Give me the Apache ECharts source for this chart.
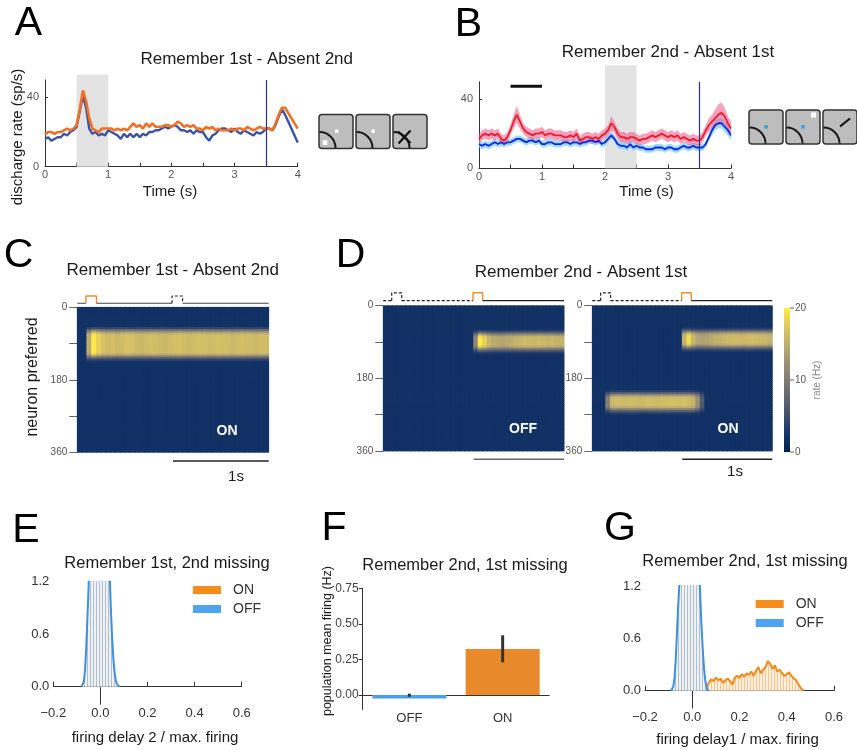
<!DOCTYPE html>
<html>
<head>
<meta charset="utf-8">
<script src="https://cdn.jsdelivr.net/npm/echarts@6/dist/echarts.min.js"></script>
<style>
  html, body { margin: 0; padding: 0; background: #ffffff; }
  #chart { width: 857px; height: 750px; }
</style>
</head>
<body>
<div id="chart"></div>
<script>
// ---------------- Panel A: example neuron, Remember 1st - Absent 2nd (sp/s, 50 ms steps from 0 s) ----------------
const psthStep = 0.05;
const orangeA = [
  18.5,20,20,19,20,20,21,22,21,22,
  24,33,44,38,28,22,21,20,22,22,
  22,22,21,22,21,22,21,23,25,23,
  24,22,25,23,25,23,23,23,24,24,
  23,24,26,25,23,24,23,24,22,22,
  21,23,22,23,21,22,21,21,21,22,
  21,22,22,21,23,22,21,22,23,22,
  22,22,21,25,30,34,34,31,28,25,
  22];
const blueA = [
  16,17,15,16,17,17,19,18,20,21,
  23,32,41,34,22,19,20,18,19,18,
  21,20,19,18,16,19,17,19,17,19,
  17,19,18,20,20,21,21,22,23,22,
  23,24,23,21,21,20,21,19,21,20,
  20,17,15,18,19,21,22,22,21,20,
  22,20,19,21,20,19,18,20,19,20,
  22,22,21,24,29,33,30,26,22,18,
  14];

// ---------------- Panel B: population mean +/- sem, Remember 2nd - Absent 1st ----------------
const redB = [
  17,19,20,19,20,19,20,17,16,18,
  22,27,31,27,23,21,20,19,20,20,
  21,19,20,20,19,19,19,18,18,19,
  18,20,16,17,18,18,17,18,17,19,
  20,22,26,24,20,18,18,17,18,18,
  17,16,17,17,18,19,18,19,20,19,
  18,19,18,19,17,18,17,16,17,16,
  16,18,22,25,27,29,31,32,30,26,
  23];
const redSemB = [
  3,3,3,3,3,3,3,3,3,3,
  3,4,5,4,3,3,3,3,3,3,
  3,3,3,3,3,3,3,3,3,3,
  3,3,3,3,3,3,3,3,3,3,
  3,3,4,3,3,3,3,3,3,3,
  3,3,3,3,3,3,3,3,3,3,
  3,3,3,3,3,3,3,3,3,3,
  3,3,3,4,4,5,6,6,5,4,
  4];
const blueB = [
  14,13,14,13,14,15,14,15,14,15,
  15,16,17,17,16,15,16,16,15,16,
  14,14,15,15,14,14,14,15,15,14,
  15,15,14,15,15,16,16,15,16,14,
  15,17,19,17,14,13,13,12,14,12,
  13,12,12,11,11,11,12,12,12,11,
  12,12,11,11,12,13,12,12,13,12,
  12,12,14,18,22,25,26,26,24,22,
  19];
const blueSemB = [
  2,2,2,2,2,2,2,2,2,2,
  2,2,2,2,2,2,2,2,2,2,
  2,2,2,2,2,2,2,2,2,2,
  2,2,2,2,2,2,2,2,2,2,
  2,2,2,2,2,2,2,2,2,2,
  2,2,2,2,2,2,2,2,2,2,
  2,2,2,2,2,2,2,2,2,2,
  2,2,2,2,3,3,3,3,3,3,
  3];

const stimWindowA = [0.5, 1.0];
const stimWindowB = [2.0, 2.5];
const goCueTime = 3.5;
const cueBarB = [0.5, 1.0];
const cueBarLevelB = 47.4;

// ---------------- Panels C, D: network rate maps (Hz), 50 ms x 5 deg bins ----------------
const TIME_BINS = 40;          // 0 - 2 s
const NEURON_BINS = 72;        // 0 - 360 deg
const baseRate = 2;
const bumpRate = 17;
const bumpProfile = [0.1, 0.35, 0.7, 0.95, 1, 1, 1, 1, 0.9, 0.6, 0.3, 0.1];
const bumpProfileC = [0.15, 0.45, 0.75, 0.95, 1, 1, 1, 1, 1, 1, 1, 1, 1, 0.9, 0.6, 0.3, 0.1];
const bumpStartC = 10, bumpStartDL = 12, bumpStartDRup = 11, bumpStartDRlow = 42;
const bumpTimeC = [
  0,0,0.75,1.05,0.95,0.88,0.84,0.86,0.83,0.85,
  0.88,0.86,0.83,0.82,0.84,0.86,0.85,0.83,0.82,0.84,
  0.86,0.87,0.85,0.83,0.85,0.87,0.86,0.84,0.85,0.87,
  0.86,0.85,0.83,0.85,0.86,0.85,0.84,0.83,0.85,0.84];
const bumpTimeDL = [
  0,0,0,0,0,0,0,0,0,0,
  0,0,0,0,0,0,0,0,0,0,
  0.55,1.05,0.95,0.82,0.76,0.74,0.73,0.75,0.77,0.8,
  0.82,0.84,0.83,0.82,0.84,0.83,0.81,0.82,0.8,0.79];
const bumpTimeDRup = [
  0,0,0,0,0,0,0,0,0,0,
  0,0,0,0,0,0,0,0,0,0,
  0.8,1.0,0.82,0.72,0.7,0.72,0.75,0.78,0.8,0.82,
  0.84,0.85,0.84,0.83,0.85,0.86,0.84,0.83,0.82,0.8];
const bumpTimeDRlow = [
  0,0,0,0.5,0.82,0.85,0.84,0.83,0.85,0.84,
  0.83,0.84,0.86,0.85,0.84,0.85,0.86,0.87,0.86,0.85,
  0.86,0.85,0.8,0.6,0.25,0,0,0,0,0,
  0,0,0,0,0,0,0,0,0,0];
// stimulus schedule (s): [onset, offset]
const cuePulseC = [0.09, 0.20];
const absentPulseC = [0.99, 1.10];
const absentPulseD = [0.093, 0.204];
const cuePulseD = [0.993, 1.10];
const scaleBarSec = [1.0, 2.0];
const rateTicks = [0, 10, 20];

// ---------------- Panel E / G: distributions of normalised delay firing ----------------
const offE = [0,0.01,0.06,0.2,0.45,0.8,1.15,1.6,2.2,2.8,3.3,3.7,4.0,4.2,4.3,4.4,4.4,4.3,4.2,4.0,3.6,3.0,2.3,1.7,1.25,0.85,0.55,0.32,0.17,0.08,0.03,0.01,0];
const offEStart = -0.08, offEStep = 0.005;
const offG = [0,0.01,0.05,0.15,0.35,0.65,0.95,1.2,1.6,2.2,2.8,3.3,3.7,4.0,4.2,4.3,4.3,4.2,4.0,3.7,3.3,2.9,2.4,1.8,1.35,1.0,0.7,0.45,0.25,0.12,0.04,0.01,0];
const offGStart = -0.09, offGStep = 0.005;
const onG = [0.04,0.09,0.13,0.11,0.15,0.12,0.14,0.09,0.12,0.14,0.11,0.07,0.15,0.17,0.15,0.19,0.16,0.2,0.18,0.22,0.17,0.23,0.27,0.2,0.24,0.27,0.34,0.31,0.25,0.29,0.22,0.24,0.2,0.17,0.19,0.21,0.17,0.14,0.12,0.07,0.03,0];
const onGStart = 0.06, onGStep = 0.01;

// ---------------- Panel F: population mean firing (Hz) ----------------
const fCategories = ['OFF', 'ON'];
const fMeans = [-0.025, 0.323];
const fErrLow = [-0.012, 0.23];
const fErrHigh = [0.01, 0.42];

// ---------------- helpers ----------------
const SANS = "'Liberation Sans', Arial, sans-serif";
const ORANGE_A = '#F36F21', BLUE_A = '#3A52A6';
const BLUE_E = '#3E90E0', ORANGE_G = '#F38B14';
const CIVIDIS = ['#00204D', '#1A386F', '#4B556C', '#6E6F72', '#8F8877', '#B4A673', '#DAC563', '#FFEA46'];

const toXY = (arr, start, step) => arr.map((v, i) => [+(start + i * step).toFixed(4), v]);

function stripes(a, b, wa, wb) {
  const c = document.createElement('canvas');
  c.width = wa + wb; c.height = 4;
  const g = c.getContext('2d');
  g.fillStyle = b; g.fillRect(0, 0, wa + wb, 4);
  g.fillStyle = a; g.fillRect(0, 0, wa, 4);
  return { image: c, repeat: 'repeat' };
}

function heatCells(bands) {
  const cells = [];
  for (let t = 0; t < TIME_BINS; t++) {
    for (let n = 0; n < NEURON_BINS; n++) {
      let v = baseRate;
      bands.forEach(b => {
        const k = n - b.start;
        if (k >= 0 && k < b.profile.length) v += bumpRate * b.time[t] * b.profile[k];
      });
      cells.push([t, n, Math.min(v, 20)]);
    }
  }
  return cells;
}
const timeBins = Array.from({ length: TIME_BINS }, (_, i) => String(i));
const neuronBins = Array.from({ length: NEURON_BINS }, (_, i) => String(i));

// ---------------- layout ----------------
const grids = [
  { left: 45, top: 80, width: 252.7, height: 86.7 },     // 0 A
  { left: 479, top: 81.7, width: 252, height: 86.6 },    // 1 B
  { left: 77.3, top: 307.3, width: 191.4, height: 145 }, // 2 C
  { left: 383.3, top: 305.7, width: 180.7, height: 145.3 }, // 3 D left
  { left: 592.3, top: 305.7, width: 180, height: 145.3 },   // 4 D right
  { left: 53.3, top: 581.7, width: 188.4, height: 122.5 },  // 5 E
  { left: 362.7, top: 588.3, width: 186.6, height: 121 },   // 6 F
  { left: 645, top: 586, width: 189, height: 122.2 }        // 7 G
];

const axisLineStyle = { lineStyle: { color: '#333', width: 1 } };

function psthX(grid) {
  return {
    type: 'value', gridIndex: grid, min: 0, max: 4,
    axisLine: axisLineStyle,
    axisTick: { inside: true, length: 4, lineStyle: { color: '#333' }, customValues: [0, 0.5, 1, 1.5, 2, 2.5, 3, 3.5, 4] },
    axisLabel: { customValues: [0, 1, 2, 3, 4], fontSize: 11, color: '#555', fontFamily: SANS, margin: 3 },
    splitLine: { show: false }
  };
}
function psthY(grid) {
  return {
    type: 'value', gridIndex: grid, min: 0, max: 50,
    axisLine: { show: true, lineStyle: { color: '#333', width: 1 } },
    axisTick: { inside: true, length: 3, lineStyle: { color: '#333' }, customValues: [0, 40] },
    axisLabel: { customValues: [0, 40], fontSize: 11, color: '#555', fontFamily: SANS, margin: 6 },
    splitLine: { show: false }
  };
}
function hmCatX(grid) { return { type: 'category', gridIndex: grid, data: timeBins, show: false }; }
function hmCatY(grid) { return { type: 'category', gridIndex: grid, data: neuronBins, inverse: true, show: false }; }
function hmValX(grid) { return { type: 'value', gridIndex: grid, min: 0, max: 2, show: false }; }
function hmValY(grid) {
  return {
    type: 'value', gridIndex: grid, min: 0, max: 360, inverse: true, position: 'left',
    axisLine: { show: false },
    axisTick: { show: true, length: 8, lineStyle: { color: '#666' }, customValues: [0, 90, 180, 270, 360] },
    axisLabel: { customValues: [0, 180, 360], fontSize: 10, color: '#555', fontFamily: SANS, margin: 10 },
    splitLine: { show: false }
  };
}
const fmtSigned = v => (v < 0 ? '\u2212' + Math.abs(v).toFixed(1) : v.toFixed(1));
function distX(grid) {
  return {
    type: 'value', gridIndex: grid, min: -0.2, max: 0.6, interval: 0.2,
    axisLine: axisLineStyle,
    axisTick: { inside: true, length: 5, lineStyle: { color: '#333' } },
    axisLabel: { formatter: fmtSigned, fontSize: 13, color: '#333', fontFamily: SANS, margin: 3 },
    splitLine: { show: false }
  };
}
function distY(grid) {
  return {
    type: 'value', gridIndex: grid, min: -0.2, max: 1.2,
    axisLine: { show: true, lineStyle: { color: '#333', width: 1 } },
    axisTick: { show: true, length: 4, lineStyle: { color: '#333' }, customValues: [0, 0.6, 1.2] },
    axisLabel: { customValues: [0, 0.6, 1.2], formatter: v => v.toFixed(1), fontSize: 13, color: '#333', fontFamily: SANS, margin: 4 },
    splitLine: { show: false }
  };
}

const xAxes = [
  psthX(0), psthX(1),
  hmCatX(2), hmValX(2),
  hmCatX(3), hmValX(3),
  hmCatX(4), hmValX(4),
  distX(5),
  {
    type: 'category', gridIndex: 6, data: fCategories,
    axisLine: axisLineStyle,
    axisTick: { alignWithLabel: true, inside: true, length: 5, lineStyle: { color: '#333' } },
    axisLabel: { fontSize: 13, color: '#333', fontFamily: SANS, margin: 3 }
  },
  distX(7)
];
const yAxes = [
  psthY(0), psthY(1),
  hmCatY(2), hmValY(2),
  hmCatY(3), hmValY(3),
  hmCatY(4), hmValY(4),
  distY(5),
  {
    type: 'value', gridIndex: 6, min: -0.1, max: 0.75,
    axisLine: { show: true, lineStyle: { color: '#333', width: 1 } },
    axisTick: { show: true, length: 4, lineStyle: { color: '#333' }, customValues: [0, 0.25, 0.5, 0.75] },
    axisLabel: { customValues: [0, 0.25, 0.5, 0.75], formatter: v => v.toFixed(2), fontSize: 12, color: '#444', fontFamily: SANS, margin: 4 },
    splitLine: { show: false }
  },
  distY(7)
];

// ---------------- series ----------------
const series = [];
const plain = { symbol: 'none', silent: true, animation: false };

// shaded stimulus windows (may rise above the plotting frame) + go-cue line
function windowSeries(ax, win, top) {
  series.push({
    type: 'custom', xAxisIndex: ax, yAxisIndex: ax, clip: false, silent: true, animation: false, z: 1,
    data: [[win[0], win[1], top]],
    renderItem: (params, api) => {
      const a = api.coord([api.value(0), 0]);
      const b = api.coord([api.value(1), api.value(2)]);
      return { type: 'rect', shape: { x: a[0], y: b[1], width: b[0] - a[0], height: a[1] - b[1] }, style: { fill: '#e3e3e3' } };
    }
  });
  series.push(Object.assign({
    type: 'line', xAxisIndex: ax, yAxisIndex: ax, data: [], z: 2,
    markLine: { silent: true, symbol: 'none', label: { show: false }, lineStyle: { color: '#2E2F8F', width: 1.2, type: 'solid' }, data: [{ xAxis: goCueTime }] }
  }, plain));
}
windowSeries(0, stimWindowA, 53);
windowSeries(1, stimWindowB, 59.5);

// Panel A traces
series.push(Object.assign({ type: 'line', xAxisIndex: 0, yAxisIndex: 0, z: 3, data: toXY(blueA, 0, psthStep), lineStyle: { color: BLUE_A, width: 2.4 } }, plain));
series.push(Object.assign({ type: 'line', xAxisIndex: 0, yAxisIndex: 0, z: 4, data: toXY(orangeA, 0, psthStep), lineStyle: { color: ORANGE_A, width: 2.6 } }, plain));

// Panel B sem bands: polygon between mean - sem and mean + sem
function band(mean, sem, fill) {
  series.push({
    type: 'custom', xAxisIndex: 1, yAxisIndex: 1, silent: true, animation: false, z: 2,
    data: [[0, mean[0]]],
    renderItem: (params, api) => {
      const up = mean.map((m, i) => api.coord([i * psthStep, m + sem[i]]));
      const lo = mean.map((m, i) => api.coord([i * psthStep, m - sem[i]])).reverse();
      return { type: 'polygon', shape: { points: up.concat(lo) }, style: { fill: fill } };
    }
  });
}
band(blueB, blueSemB, 'rgba(110,210,250,0.7)');
band(redB, redSemB, 'rgba(240,85,135,0.55)');
series.push(Object.assign({ type: 'line', xAxisIndex: 1, yAxisIndex: 1, z: 3, data: toXY(blueB, 0, psthStep), lineStyle: { color: '#1520E6', width: 1.8 } }, plain));
series.push(Object.assign({ type: 'line', xAxisIndex: 1, yAxisIndex: 1, z: 4, data: toXY(redB, 0, psthStep), lineStyle: { color: '#EE1D2E', width: 1.8 } }, plain));
series.push(Object.assign({ type: 'line', xAxisIndex: 1, yAxisIndex: 1, z: 4, clip: false, data: cueBarB.map(t => [t, cueBarLevelB]), lineStyle: { color: '#111', width: 3 } }, plain));

// Panels C, D rate maps: one rectangle per (time bin, neuron bin), slightly overlapped to avoid seams
const heatIdx = [];
function heat(ax, bands) {
  heatIdx.push(series.length);
  series.push({
    type: 'custom', xAxisIndex: ax, yAxisIndex: ax, data: heatCells(bands),
    encode: { x: 0, y: 1 }, silent: true, animation: false, z: 2,
    renderItem: (params, api) => {
      const p = api.coord([api.value(0), api.value(1)]);
      const s = api.size([1, 1]);
      return {
        type: 'rect',
        shape: { x: p[0] - s[0] / 2 - 0.4, y: p[1] - s[1] / 2 - 0.4, width: s[0] + 0.8, height: s[1] + 0.8 },
        style: { fill: api.visual('color') }
      };
    }
  });
}
heat(2, [{ start: bumpStartC, profile: bumpProfileC, time: bumpTimeC }]);
heat(4, [{ start: bumpStartDL, profile: bumpProfile, time: bumpTimeDL }]);
heat(6, [{ start: bumpStartDRup, profile: bumpProfile, time: bumpTimeDRup },
         { start: bumpStartDRlow, profile: bumpProfile, time: bumpTimeDRlow }]);

// stimulus traces above maps and 1 s scale bars below
function seg(ax, pts, color, width, dashed) {
  series.push(Object.assign({
    type: 'line', xAxisIndex: ax, yAxisIndex: ax, clip: false, z: 5, data: pts,
    lineStyle: { color: color, width: width, type: dashed ? [3, 2] : 'solid' }
  }, plain));
}
const pulse = (p, y0, y1) => [[p[0], y0], [p[0], y1], [p[1], y1], [p[1], y0]];
// C: cue then (absent) probe
{
  const ax = 3, y0 = -10, y1 = -28;
  seg(ax, [[0, y0], [cuePulseC[0], y0]], '#444', 1.2);
  seg(ax, pulse(cuePulseC, y0, y1), '#F08C2A', 1.4);
  seg(ax, [[cuePulseC[1], y0], [absentPulseC[0], y0]], '#444', 1.2);
  seg(ax, pulse(absentPulseC, y0, y1), '#222', 1.2, true);
  seg(ax, [[absentPulseC[1], y0], [2, y0]], '#444', 1.2);
  seg(ax, [[scaleBarSec[0], 381.6], [scaleBarSec[1], 381.6]], '#222', 1.5);
}
// D: absent first item, then cue
[5, 7].forEach((ax, k) => {
  const y0 = -12.5, y1 = -32;
  seg(ax, [[0, y0], [absentPulseD[0], y0]], '#222', 1.2, true);
  seg(ax, pulse(absentPulseD, y0, y1), '#222', 1.2, true);
  seg(ax, [[absentPulseD[1], y0], [cuePulseD[0], y0]], '#222', 1.2, true);
  seg(ax, pulse(cuePulseD, y0, y1), '#F08C2A', 1.4);
  seg(ax, [[cuePulseD[1], y0], [2, y0]], '#222', 1.2);
  seg(ax, [[scaleBarSec[0], 380.6], [scaleBarSec[1], 380.6]], k === 0 ? '#6a6a6a' : '#222', 1.5);
});

// Panel E, G distributions
const greyHatch = stripes('#b3bfca', '#eef1f4', 1, 2);
const orangeHatch = stripes('#f6c690', '#fdeedd', 1, 2);
function dist(ax, data, color, hatch) {
  series.push(Object.assign({
    type: 'line', xAxisIndex: ax, yAxisIndex: ax, data: data, z: 3,
    lineStyle: { color: color, width: 2 }, areaStyle: { color: hatch, opacity: 1 }
  }, plain));
}
dist(8, toXY(offE, offEStart, offEStep), BLUE_E, greyHatch);
dist(10, toXY(onG, onGStart, onGStep), ORANGE_G, orangeHatch);
dist(10, toXY(offG, offGStart, offGStep), BLUE_E, greyHatch);

// Panel F bars with error bars
series.push({
  type: 'bar', xAxisIndex: 9, yAxisIndex: 9, barWidth: 74, silent: true, animation: false,
  data: fMeans.map((v, i) => ({ value: v, itemStyle: { color: i === 0 ? '#4A9FE6' : '#E8892B' } }))
});
series.push({
  type: 'custom', xAxisIndex: 9, yAxisIndex: 9, silent: true, animation: false, z: 5,
  data: fCategories.map((c, i) => [i, fErrLow[i], fErrHigh[i]]),
  renderItem: (params, api) => {
    const a = api.coord([api.value(0), api.value(1)]);
    const b = api.coord([api.value(0), api.value(2)]);
    return { type: 'line', shape: { x1: a[0], y1: a[1], x2: b[0], y2: b[1] }, style: { stroke: '#333', lineWidth: 3 } };
  }
});

// ---------------- graphic annotations ----------------
const G = [];
function txt(x, y, text, size, opts) {
  opts = opts || {};
  G.push({
    type: 'text', x: x, y: y, rotation: opts.rot || 0, silent: true, z: 100,
    style: {
      text: text, fill: opts.color || '#1a1a1a',
      font: (opts.weight || 'normal') + ' ' + size + 'px ' + (opts.family || SANS),
      align: opts.align || 'center', verticalAlign: 'middle',
      textAlign: opts.align || 'center', textVerticalAlign: 'middle'
    }
  });
}
// panel letters
[['A', 28.5, 23.5], ['B', 468.5, 24.5], ['C', 18.5, 255.5], ['D', 350.5, 255.5], ['E', 26, 530.5], ['F', 334, 529], ['G', 620, 529]]
  .forEach(l => txt(l[1], l[2], l[0], 41, { color: '#000' }));
// titles
txt(246.7, 59.5, 'Remember 1st - Absent 2nd', 17);
txt(668, 52, 'Remember 2nd - Absent 1st', 17);
txt(172.7, 270, 'Remember 1st - Absent 2nd', 17);
txt(581, 272.5, 'Remember 2nd - Absent 1st', 17);
txt(167, 563, 'Remember 1st, 2nd missing', 16.5);
txt(465, 565, 'Remember 2nd, 1st missing', 16.5);
txt(745, 561, 'Remember 2nd, 1st missing', 16.5);
// axis names
txt(18, 137, 'discharge rate (sp/s)', 15, { rot: Math.PI / 2 });
txt(170, 191.5, 'Time (s)', 15);
txt(646.5, 192, 'Time (s)', 15);
txt(33, 377, 'neuron preferred', 16, { rot: Math.PI / 2 });
txt(155, 738, 'firing delay 2 / max. firing', 15);
txt(328, 641, 'population mean firing (Hz)', 12.5, { rot: Math.PI / 2 });
txt(737.5, 740, 'firing delay1 / max. firing', 15);
// labels inside maps
txt(227, 431.5, 'ON', 14, { color: '#fff', weight: 'bold' });
txt(523, 429, 'OFF', 14, { color: '#fff', weight: 'bold' });
txt(728, 429, 'ON', 14, { color: '#fff', weight: 'bold' });
txt(236, 476.5, '1s', 15);
txt(735, 471.5, '1s', 15);

// colour bar for the rate maps
G.push({
  type: 'rect', silent: true, z: 90, shape: { x: 784, y: 308, width: 6, height: 144 },
  style: { fill: new echarts.graphic.LinearGradient(0, 1, 0, 0, CIVIDIS.map((c, i) => ({ offset: i / (CIVIDIS.length - 1), color: c }))) }
});
rateTicks.forEach(v => {
  const y = 452 - (v / 20) * 144;
  G.push({ type: 'line', silent: true, z: 90, shape: { x1: 790, y1: y, x2: 794, y2: y }, style: { stroke: '#666', lineWidth: 1 } });
  txt(795, y, String(v), 10, { align: 'left', color: '#555' });
});
txt(817, 380, 'rate (Hz)', 10, { rot: Math.PI / 2, color: '#888' });

// legends for E and G
function legend(x, y) {
  G.push({ type: 'rect', silent: true, z: 90, shape: { x: x, y: y, width: 28, height: 8 }, style: { fill: '#F68D1A' } });
  G.push({ type: 'rect', silent: true, z: 90, shape: { x: x, y: y + 19, width: 28, height: 8 }, style: { fill: '#4EA4EE' } });
  txt(x + 40, y + 4, 'ON', 14, { align: 'left', color: '#333' });
  txt(x + 40, y + 23, 'OFF', 14, { align: 'left', color: '#333' });
}
legend(193, 586);
legend(755.7, 600);

// task icons
function screen(x, y, extra) {
  G.push({ type: 'rect', silent: true, z: 90, shape: { x: x, y: y, width: 34, height: 34, r: 3 }, style: { fill: '#bdbdbd', stroke: '#333', lineWidth: 1.5 } });
  G.push({ type: 'arc', silent: true, z: 91, shape: { cx: x + 0.5, cy: y + 33.5, r: 16, startAngle: -Math.PI / 2, endAngle: 0, clockwise: true }, style: { stroke: '#1a1a1a', lineWidth: 2, fill: null } });
  extra.forEach(e => { e.silent = true; e.z = 92; G.push(e); });
}
const sq = (x, y, s, c) => ({ type: 'rect', shape: { x: x, y: y, width: s, height: s }, style: { fill: c } });
const ln = (x1, y1, x2, y2) => ({ type: 'line', shape: { x1: x1, y1: y1, x2: x2, y2: y2 }, style: { stroke: '#111', lineWidth: 2.2 } });
screen(319, 114.5, [sq(322.7, 140.3, 4.6, '#fff'), sq(335, 129.5, 3.4, '#fff')]);
screen(356, 114.5, [sq(371.5, 129.5, 3.4, '#fff')]);
screen(393, 114.5, [ln(398, 131.5, 410.5, 143), ln(398.5, 143.5, 410.5, 130.5)]);
screen(749, 110, [sq(764.3, 125, 3.6, '#33A6E0')]);
screen(786, 110, [sq(801.3, 125, 3.6, '#33A6E0'), sq(811, 112.5, 5, '#fff')]);
screen(823, 110, [ln(840, 126.5, 850, 118.5)]);

const option = {
  animation: false,
  backgroundColor: '#ffffff',
  grid: grids,
  xAxis: xAxes,
  yAxis: yAxes,
  visualMap: [{
    type: 'continuous', show: false, min: 0, max: 20, dimension: 2,
    seriesIndex: heatIdx, inRange: { color: CIVIDIS }
  }],
  series: series,
  graphic: { elements: G }
};

const chart = echarts.init(document.getElementById('chart'), null, { renderer: 'canvas' });
chart.setOption(option);
</script>
</body>
</html>
